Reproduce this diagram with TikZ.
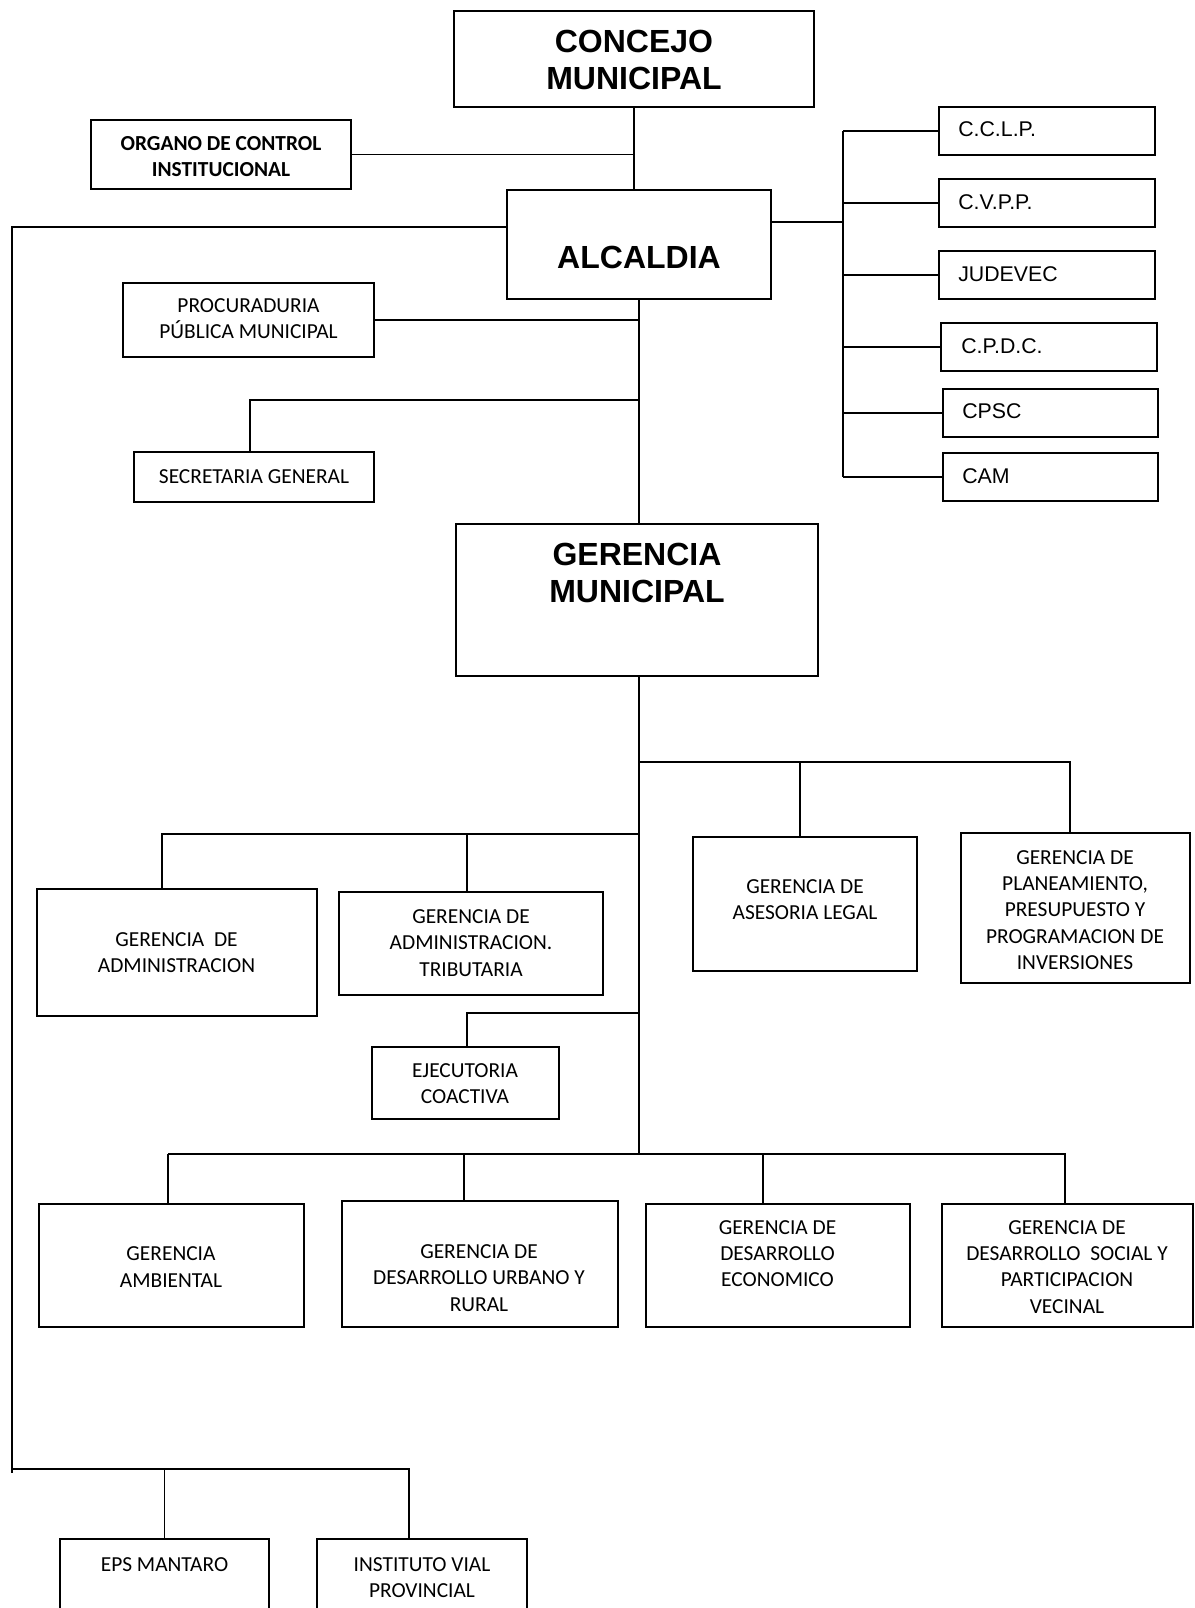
\documentclass[tikz,border=0pt]{standalone}
\usepackage{fontspec}
\newfontfamily\calibri{Carlito}
\newfontfamily\arial{Liberation Sans}
\begin{document}
\begin{tikzpicture}[x=1pt,y=-1pt,
  box/.style={draw, rectangle, line width=1.8pt, inner sep=0pt},
  wire/.style={line width=1.8pt},
  title/.style={font=\arial\bfseries\fontsize{32}{37}\selectfont, align=center, inner sep=0pt},
  lbl/.style={font=\calibri\fontsize{21.4}{26.2}\selectfont, align=center, inner sep=0pt},
  lblb/.style={font=\calibri\bfseries\fontsize{21.4}{26.2}\selectfont, align=center, inner sep=0pt},
  side/.style={font=\arial\fontsize{21.3}{25}\selectfont, anchor=west, inner sep=0pt}]
\clip (0,0) rectangle (1194,1608);
\fill[white] (0,0) rectangle (1194,1608);

% ---- upper level boxes
\node[box, minimum width=360, minimum height=96] (concejo) at (634,59) {};
\node[box, minimum width=260, minimum height=69] (organo) at (221,154.5) {};
\node[box, minimum width=264, minimum height=109] (alcaldia) at (639,244.5) {};
\node[box, minimum width=251, minimum height=74] (procu) at (248.5,320) {};
\node[box, minimum width=240, minimum height=50] (secre) at (254,477) {};
\node[box, minimum width=362, minimum height=152] (gerencia) at (637,600) {};

% ---- commissions on the right
\node[box, minimum width=216, minimum height=48] (cclp) at (1047,131) {};
\node[box, minimum width=216, minimum height=48] (cvpp) at (1047,203) {};
\node[box, minimum width=216, minimum height=48] (judevec) at (1047,275) {};
\node[box, minimum width=216, minimum height=48] (cpdc) at (1049,347) {};
\node[box, minimum width=215, minimum height=48] (cpsc) at (1050.5,413) {};
\node[box, minimum width=215, minimum height=48] (cam) at (1050.5,477) {};

% ---- management offices
\node[box, minimum width=224, minimum height=134] (asesoria) at (805,904) {};
\node[box, minimum width=229, minimum height=150] (planea) at (1075.5,908) {};
\node[box, minimum width=280, minimum height=127] (admin) at (177,952.5) {};
\node[box, minimum width=264, minimum height=103] (tribut) at (471,943.5) {};
\node[box, minimum width=187, minimum height=72] (ejecut) at (465.5,1083) {};
\node[box, minimum width=265, minimum height=123] (ambiental) at (171.5,1265.5) {};
\node[box, minimum width=276, minimum height=126] (urbano) at (480,1264) {};
\node[box, minimum width=264, minimum height=123] (economico) at (778,1265.5) {};
\node[box, minimum width=251, minimum height=123] (social) at (1067.5,1265.5) {};
\node[box, minimum width=209, minimum height=101] (eps) at (164.5,1589.5) {};
\node[box, minimum width=210, minimum height=101] (instituto) at (422,1589.5) {};

% ---- texts
\node[title] (tconcejo) at (634,59.5) {CONCEJO\\MUNICIPAL};
\node[title] (talcaldia) at (639,257) {ALCALDIA};
\node[title] (tgerencia) at (637,572.5) {GERENCIA\\MUNICIPAL};
\node[lblb] (torgano) at (221,156.5) {ORGANO DE CONTROL\\INSTITUCIONAL};
\node[lbl] (tprocu) at (248.5,319) {PROCURADURIA\\PÚBLICA MUNICIPAL};
\node[lbl] (tsecre) at (254,477) {SECRETARIA GENERAL};
\node[side] (tcclp) at ([xshift=20pt,yshift=1.5pt]cclp.west) {C.C.L.P.};
\node[side] (tcvpp) at ([xshift=20pt,yshift=1pt]cvpp.west) {C.V.P.P.};
\node[side] (tjudevec) at ([xshift=20pt,yshift=1pt]judevec.west) {JUDEVEC};
\node[side] (tcpdc) at ([xshift=21pt,yshift=1pt]cpdc.west) {C.P.D.C.};
\node[side] (tcpsc) at ([xshift=20pt,yshift=2pt]cpsc.west) {CPSC};
\node[side] (tcam) at ([xshift=20pt,yshift=1pt]cam.west) {CAM};
\node[lbl] (tadmin) at (176.5,953) {GERENCIA\ \ DE\\ADMINISTRACION};
\node[lbl] (ttribut) at (471,943) {GERENCIA DE\\ADMINISTRACION.\\TRIBUTARIA};
\node[lbl] (tasesoria) at (805,899.5) {GERENCIA DE\\ASESORIA LEGAL};
\node[lbl] (tplanea) at (1075,910) {GERENCIA DE\\PLANEAMIENTO,\\PRESUPUESTO Y\\PROGRAMACION DE\\INVERSIONES};
\node[lbl] (tejecut) at (465,1084) {EJECUTORIA\\COACTIVA};
\node[lbl] (tambiental) at (171,1267) {GERENCIA\\AMBIENTAL};
\node[lbl] (turbano) at (479,1278) {GERENCIA DE\\DESARROLLO URBANO Y\\RURAL};
\node[lbl] (teconomico) at (777.5,1253.5) {GERENCIA DE\\DESARROLLO\\ECONOMICO};
\node[lbl] (tsocial) at (1067,1267) {GERENCIA DE\\DESARROLLO\ \ SOCIAL Y\\PARTICIPACION\\VECINAL};
\node[lbl] (teps) at (164.5,1565) {EPS MANTARO};
\node[lbl] (tinstituto) at (422,1578) {INSTITUTO VIAL\\PROVINCIAL};

% ---- junction points of the connector buses
\coordinate (leftTop) at (12,227);
\coordinate (leftEnd) at (12,1473);
\coordinate (epsBus) at (12,1469);
\coordinate (instBus) at (409,1469);
\coordinate (rightJ) at (843,222);
\coordinate (rbus) at (843,0);
\coordinate (secJ) at (639,400);
\coordinate (secDrop) at (250,400);
\coordinate (gmBot) at (639,1154);
\coordinate (busR0) at (639,762);
\coordinate (busR1) at (800,762);
\coordinate (busR2) at (1070,762);
\coordinate (busL0) at (639,834);
\coordinate (busL1) at (162,834);
\coordinate (busL2) at (467,834);
\coordinate (ejJ) at (639,1013);
\coordinate (ejDrop) at (467,1013);
\coordinate (busB1) at (168,1154);
\coordinate (busB2) at (464,1154);
\coordinate (busB3) at (763,1154);
\coordinate (busB4) at (1065,1154);

% ---- connectors
\draw[wire] (concejo.south) -- (concejo.south |- alcaldia.north);
\draw[wire] (organo.east) -- (organo.east -| concejo.south);
\draw[wire] (alcaldia.south) -- (alcaldia.south |- gerencia.north);
\draw[wire] (procu.east) -- (procu.east -| alcaldia.south);
\draw[wire] (secJ) -- (secDrop) -- (secDrop |- secre.north);
\draw[wire] (alcaldia.west |- leftTop) -- (leftTop) -- (leftEnd);
\draw[wire] (epsBus) -- (instBus) -- (instBus |- instituto.north);
\draw[wire] (eps.north |- epsBus) -- (eps.north);
\draw[wire] (alcaldia.east |- rightJ) -- (rightJ);
\draw[wire] (rbus |- cclp.west) -- (rbus |- cam.west);
\draw[wire] (rbus |- cclp.west) -- (cclp.west);
\draw[wire] (rbus |- cvpp.west) -- (cvpp.west);
\draw[wire] (rbus |- judevec.west) -- (judevec.west);
\draw[wire] (rbus |- cpdc.west) -- (cpdc.west);
\draw[wire] (rbus |- cpsc.west) -- (cpsc.west);
\draw[wire] (rbus |- cam.west) -- (cam.west);
\draw[wire] (gerencia.south -| gmBot) -- (gmBot);
\draw[wire] (busR0) -- (busR2) -- (busR2 |- planea.north);
\draw[wire] (busR1) -- (busR1 |- asesoria.north);
\draw[wire] (busL0) -- (busL1) -- (busL1 |- admin.north);
\draw[wire] (busL2) -- (busL2 |- tribut.north);
\draw[wire] (ejJ) -- (ejDrop) -- (ejDrop |- ejecut.north);
\draw[wire] (busB1) -- (busB4) -- (busB4 |- social.north);
\draw[wire] (busB1) -- (busB1 |- ambiental.north);
\draw[wire] (busB2) -- (busB2 |- urbano.north);
\draw[wire] (busB3) -- (busB3 |- economico.north);
\end{tikzpicture}
\end{document}
